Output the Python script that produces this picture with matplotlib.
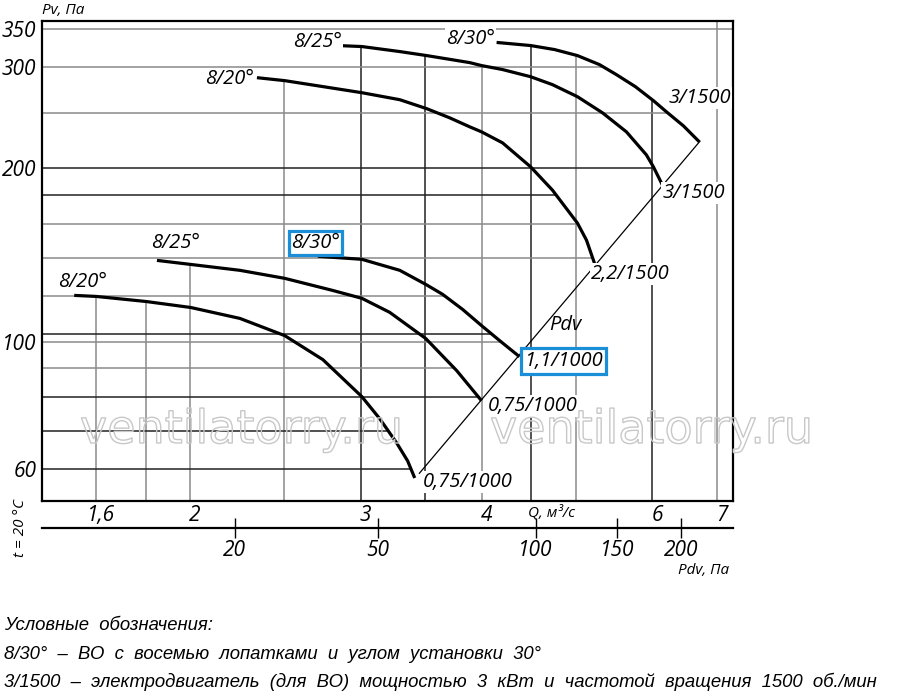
import numpy as np
import matplotlib
matplotlib.use("Agg")
import matplotlib.pyplot as plt
import matplotlib.transforms as mtransforms
from matplotlib.textpath import TextPath
from matplotlib.patches import PathPatch
from matplotlib.font_manager import FontProperties, fontManager

# ---------------- data ----------------
# upper family (motor x/1500)
U30_Q = [4.145, 4.494, 4.756, 5.023, 5.292, 5.511, 5.765, 6.017, 6.205, 6.462, 6.711]
U30_P = [331.3, 327.2, 322.0, 314.3, 303.2, 291.2, 277.5, 262.4, 251.0, 237.2, 222.5]
U25_Q = [2.842, 3.009, 3.293, 3.511, 3.888, 3.999, 4.204, 4.494, 4.733, 5.023, 5.330,
         5.643, 5.917, 6.017, 6.147]
U25_P = [327.2, 325.9, 319.4, 314.3, 305.6, 302.0, 297.2, 288.8, 279.8, 266.6, 250.0,
         231.6, 211.2, 201.3, 187.2]
U20_Q = [2.345, 2.505, 3.009, 3.293, 3.511, 3.707, 3.888, 3.999, 4.204, 4.494, 4.733,
         5.023, 5.132, 5.231]
U20_P = [287.7, 284.3, 270.9, 263.4, 254.1, 245.0, 236.3, 231.6, 221.6, 201.3, 183.4,
         160.7, 150.1, 136.8]
# lower family (motor x/1000)
L30_Q = [2.710, 3.009, 3.293, 3.503, 3.646, 3.824, 3.999, 4.174, 4.377]
L30_P = [140.7, 139.0, 133.0, 125.7, 120.8, 113.7, 106.6, 100.4, 94.1]
L25_Q = [1.849, 2.252, 2.505, 2.808, 3.009, 3.215, 3.503, 3.770, 3.999]
L25_P = [138.4, 133.0, 128.8, 122.7, 118.9, 112.4, 101.2, 89.0, 78.9]
L20_Q = [1.519, 1.600, 1.801, 2.004, 2.252, 2.505, 2.743, 3.009, 3.140, 3.269, 3.355, 3.412]
L20_P = [120.3, 119.8, 117.4, 114.6, 109.7, 102.4, 93.0, 80.2, 73.4, 66.6, 62.0, 57.9]

CURVE_NAMES = ["8/30°", "8/25°", "8/20°", "8/30°", "8/25°", "8/20°"]
MOTOR_NAMES = ["3/1500", "3/1500", "2,2/1500", "1,1/1000", "0,75/1000", "0,75/1000"]

# dynamic pressure line (end points)
PDV_LINE_Q = [3.45, 6.72]
PDV_LINE_P = [59.0, 223.0]

# axes
Q_TICKS = [1.6, 2, 3, 4, 6, 7]
Q_TICK_LABELS = ["1,6", "2", "3", "4", "6", "7"]
P_TICKS = [60, 100, 200, 300, 350]
P_TICK_LABELS = ["60", "100", "200", "300", "350"]
PDV_TICK_Q = [2.225, 3.125, 4.547, 5.524, 6.43]
PDV_TICK_LABELS = ["20", "50", "100", "150", "200"]

Q_GRID_DARK = [3, 3.5, 4.5, 6]
Q_GRID_LIGHT = [1.6, 1.8, 2, 2.5, 4, 5, 7]
P_GRID_DARK = [60, 70, 80, 103, 180, 200]
P_GRID_LIGHT = [90, 100, 120, 140, 160, 250, 300, 350]

LEGEND_LINES = [
    "Условные  обозначения:",
    "8/30°  –  ВО  с  восемью  лопатками  и  углом  установки  30°",
    "3/1500  –  электродвигатель  (для  ВО)  мощностью  3  кВт  и  частотой  вращения  1500  об./мин",
]

# ---------------- figure ----------------
W, H = 900, 693
fig = plt.figure(figsize=(W / 100, H / 100), dpi=100)
fig.patch.set_facecolor("white")

L, R, T, B = 42, 733, 21, 501
ax = fig.add_axes([L / W, 1 - B / H, (R - L) / W, (B - T) / H])
ax.set_xscale("log")
ax.set_yscale("log")
ax.set_xlim(1.407, 7.27)
ax.set_ylim(52.8, 361)

FONT = ["Open Sans", "DejaVu Sans"]
ITAL = dict(family=FONT, style="italic")

curves = [(U30_Q, U30_P), (U25_Q, U25_P), (U20_Q, U20_P),
          (L30_Q, L30_P), (L25_Q, L25_P), (L20_Q, L20_P)]


def p_at(q, qs, ps):
    lq = np.log10(qs)
    if np.log10(q) < lq[0] or np.log10(q) > lq[-1]:
        return None
    return 10 ** np.interp(np.log10(q), lq, np.log10(ps))


def q_at(p, qs, ps):
    lp = np.log10(ps)[::-1]
    if np.log10(p) < lp[0] or np.log10(p) > lp[-1]:
        return None
    return 10 ** np.interp(np.log10(p), lp, np.log10(qs)[::-1])


ymin, ymax = ax.get_ylim()
xmin, xmax = ax.get_xlim()

# vertical grid lines: from the highest curve down
for qs_list, col in ((Q_GRID_LIGHT, "#8a8a8a"), (Q_GRID_DARK, "#222222")):
    for q in qs_list:
        tops = [p_at(q, cq, cp) for cq, cp in curves]
        tops = [t for t in tops if t is not None]
        top = max(tops) if tops else ymax
        ax.plot([q, q], [ymin, top], color=col, lw=1.1, zorder=1)

# horizontal grid lines: from left to the right-most curve
all_for_h = curves + [(PDV_LINE_Q, PDV_LINE_P)]
for ps_list, col in ((P_GRID_LIGHT, "#8a8a8a"), (P_GRID_DARK, "#222222")):
    for p in ps_list:
        rights = [q_at(p, cq, cp) for cq, cp in all_for_h]
        rights = [r for r in rights if r is not None]
        right = max(rights) if rights else xmax
        ax.plot([xmin, right], [p, p], color=col, lw=1.1, zorder=1)

# Pdv line
ax.plot(PDV_LINE_Q, PDV_LINE_P, color="black", lw=0.9, zorder=2)

# curves
for cq, cp in curves:
    ax.plot(cq, cp, color="black", lw=2.3, solid_capstyle="butt",
            solid_joinstyle="round", zorder=3)

# labels at curve starts / ends (offsets in pixels)
start_off = [(-2, 3, "right"), (4, 4, "right"), (-3, -1, "right"),
             (-2, 13, "center"), (19, 17, "center"), (8, 13, "center")]
end_off = [(32, 44, "right"), (0, -8, "left"), (-4, -11, "left"),
           (5, -4, "left"), (6, -5, "left"), (8, -4, "left")]
boxed_start = {3}
boxed_end = {3}
LBL_SIZE = 14.5
for i, (cq, cp) in enumerate(curves):
    dx, dy, ha = start_off[i]
    if i in boxed_start:
        bb = dict(boxstyle="square,pad=0.1", fc="white", ec="#1a8fd8", lw=2.3)
    else:
        bb = dict(boxstyle="square,pad=0.05", fc="white", ec="none")
    ax.annotate(CURVE_NAMES[i], (cq[0], cp[0]), xytext=(dx, dy),
                textcoords="offset pixels", ha=ha, va="center",
                fontsize=LBL_SIZE, bbox=bb, zorder=5, **ITAL)
    dx, dy, ha = end_off[i]
    if i in boxed_end:
        bb = dict(boxstyle="square,pad=0.15", fc="white", ec="#1a8fd8", lw=2.3)
    else:
        bb = dict(boxstyle="square,pad=0.05", fc="white", ec="none")
    ax.annotate(MOTOR_NAMES[i], (cq[-1], cp[-1]), xytext=(dx, dy),
                textcoords="offset pixels", ha=ha, va="center",
                fontsize=LBL_SIZE, bbox=bb, zorder=5, **ITAL)

# axes appearance
for s in ax.spines.values():
    s.set_linewidth(1.6)
ax.set_xticks(Q_TICKS)
ax.set_xticklabels(Q_TICK_LABELS, **ITAL)
ax.set_yticks(P_TICKS)
ax.set_yticklabels(P_TICK_LABELS, **ITAL)
ax.minorticks_off()
ax.tick_params(axis="both", length=0, labelsize=15)
ax.tick_params(axis="x", pad=3)
ax.tick_params(axis="y", pad=4)
shift = mtransforms.ScaledTranslation(5 / 100, 0, fig.dpi_scale_trans)
for lbl in ax.get_xticklabels():
    lbl.set_transform(lbl.get_transform() + shift)

# secondary Pdv axis
sec = ax.secondary_xaxis(-(528 - B) / (B - T))
sec.set_xticks(PDV_TICK_Q)
sec.set_xticklabels(PDV_TICK_LABELS, **ITAL)
sec.minorticks_off()
sec.tick_params(axis="x", direction="inout", length=14, width=1.0, labelsize=15, pad=2)
sec.spines["bottom"].set_linewidth(1.6)


# free texts
def ftext(x, y, s, **kw):
    fig.text(x / W, 1 - y / H, s, **kw)


ftext(42, 10, "Pv, Па", fontsize=11, ha="left", va="center", **ITAL)
ftext(552, 513, "Q, м³/с", fontsize=11, ha="center", va="center", **ITAL)
ftext(729, 570, "Pdv, Па", fontsize=11, ha="right", va="center", **ITAL)
ftext(20, 528, "t = 20 °C", fontsize=11, ha="center", va="center", rotation=90, **ITAL)
ftext(565, 325, "Pdv", fontsize=14.5, ha="center", va="center", **ITAL)

# legend lines (condensed italic if available)
installed = {f.name for f in fontManager.ttflist}
if "Liberation Sans Narrow" in installed:
    LEG_FONT = dict(family=["Liberation Sans Narrow", "DejaVu Sans"], style="italic")
    leg_size = 16
else:
    LEG_FONT = dict(family=["Liberation Sans", "DejaVu Sans"], style="italic")
    leg_size = 13.3
for s, yb in zip(LEGEND_LINES, [630, 659, 687]):
    ftext(4, yb, s, fontsize=leg_size, ha="left", va="baseline", **LEG_FONT)

# watermark (outlined text)
wm_prop = FontProperties(family="DejaVu Sans")
for x0 in (80, 490):
    tp = TextPath((0, 0), "ventilatorry.ru", size=46, prop=wm_prop)
    patch = PathPatch(tp, fc="none", ec="#c8c8c8", lw=1.0,
                      transform=mtransforms.Affine2D().translate(x0, H - 443))
    fig.add_artist(patch)

fig.savefig("out.png", dpi=100, facecolor="white")
